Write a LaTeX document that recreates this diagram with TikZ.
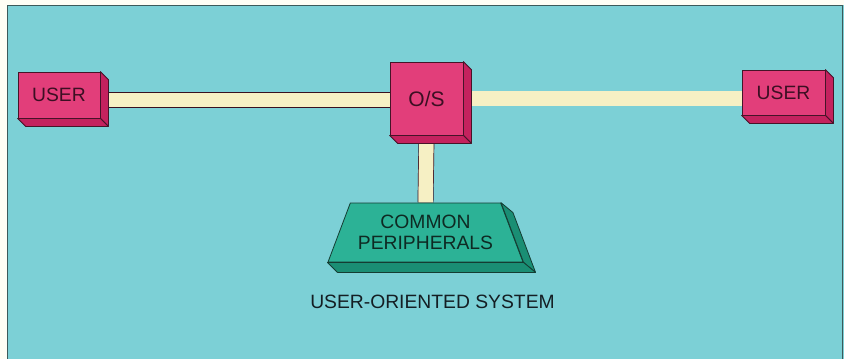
\documentclass[tikz,border=0pt]{standalone}
\usepackage{fontspec}
\setmainfont{Liberation Sans}
\usetikzlibrary{shapes.geometric,calc}
\definecolor{bgcyan}{RGB}{124,208,214}
\definecolor{frameline}{RGB}{60,90,90}
\definecolor{magfront}{RGB}{226,62,122}
\definecolor{magside}{RGB}{196,34,94}
\definecolor{outl}{RGB}{70,20,40}
\definecolor{tealfront}{RGB}{44,178,150}
\definecolor{tealside}{RGB}{26,142,116}
\definecolor{tealline}{RGB}{20,60,50}
\definecolor{cream}{RGB}{246,240,196}
\definecolor{boxtext}{RGB}{60,15,35}
\definecolor{captext}{RGB}{20,30,35}
\pgfdeclarelayer{bg}
\pgfdeclarelayer{bars}
\pgfsetlayers{bg,bars,main}
\tikzset{
  lbl/.style={font=\fontsize{19.3}{21}\selectfont},
  cube/.style={rectangle, draw=outl, fill=magfront, line width=0.8pt, inner sep=0pt, text=boxtext, lbl},
  sideface/.style={draw=outl, fill=magside, line width=0.8pt, line join=round},
  bar/.style={draw=outl!80!black, line width=0.7pt, double=cream, double distance=14.5pt},
  prism/.style={trapezium, trapezium left angle=60, trapezium right angle=60,
    trapezium stretches=true, minimum width=195pt, minimum height=59pt,
    inner sep=0pt, draw=tealline, fill=tealfront, line width=0.8pt,
    align=center, text=tealline!70!black, lbl},
  prismside/.style={draw=tealline, fill=tealside, line width=0.8pt, line join=round},
}
\begin{document}
\begin{tikzpicture}[x=1pt,y=-1pt]
\useasboundingbox (0,0) rectangle (844,359);
\begin{pgfonlayer}{bg}
\fill[white!96!yellow] (0,0) rectangle (844,359);
\fill[bgcyan] (7,5) rectangle (844,359);
\draw[frameline, line width=0.8pt] (7,359) -- (7,5) -- (842,5) -- (842,359);
\end{pgfonlayer}

% nodes
\node[cube, minimum width=82pt, minimum height=46pt] (u1) at (59,95) {USER};
\node[cube, minimum width=73pt, minimum height=73pt, font=\fontsize{21}{24}\selectfont] (os) at (426.5,98.5) {O/S};
\node[cube, minimum width=83pt, minimum height=45pt] (u2) at (783.5,92.5) {USER};
\node[prism] (pe) at (425.5,232.5) {COMMON\\PERIPHERALS};
\node[lbl, text=captext] (cap) at (432.5,302) {USER-ORIENTED SYSTEM};

% depth faces of the boxes
\foreach \b in {u1,os,u2}{
  \draw[sideface] (\b.north east) -- ++(8,8) -- ($(\b.south east)+(8,8)$) -- (\b.south east) -- cycle;
  \draw[sideface] (\b.south west) -- ++(8,8) -- ($(\b.south east)+(8,8)$) -- (\b.south east) -- cycle;
}
% depth faces of the peripherals block
\draw[prismside] (pe.top right corner) -- ++(12,10) -- ($(pe.bottom right corner)+(12,10)$) -- (pe.bottom right corner) -- cycle;
\draw[prismside] (pe.bottom left corner) -- ++(10,10) -- ($(pe.bottom right corner)+(12,10)$) -- (pe.bottom right corner) -- cycle;

% connectors
\begin{pgfonlayer}{bars}
\draw[bar] ([yshift=-5pt]u1.east) -- ([yshift=-1.5pt]os.west);
\draw[bar] (os.east) -- ([yshift=-6pt]u2.west);
\draw[bar] (os.south) -- (pe.north);
\end{pgfonlayer}
\end{tikzpicture}
\end{document}
